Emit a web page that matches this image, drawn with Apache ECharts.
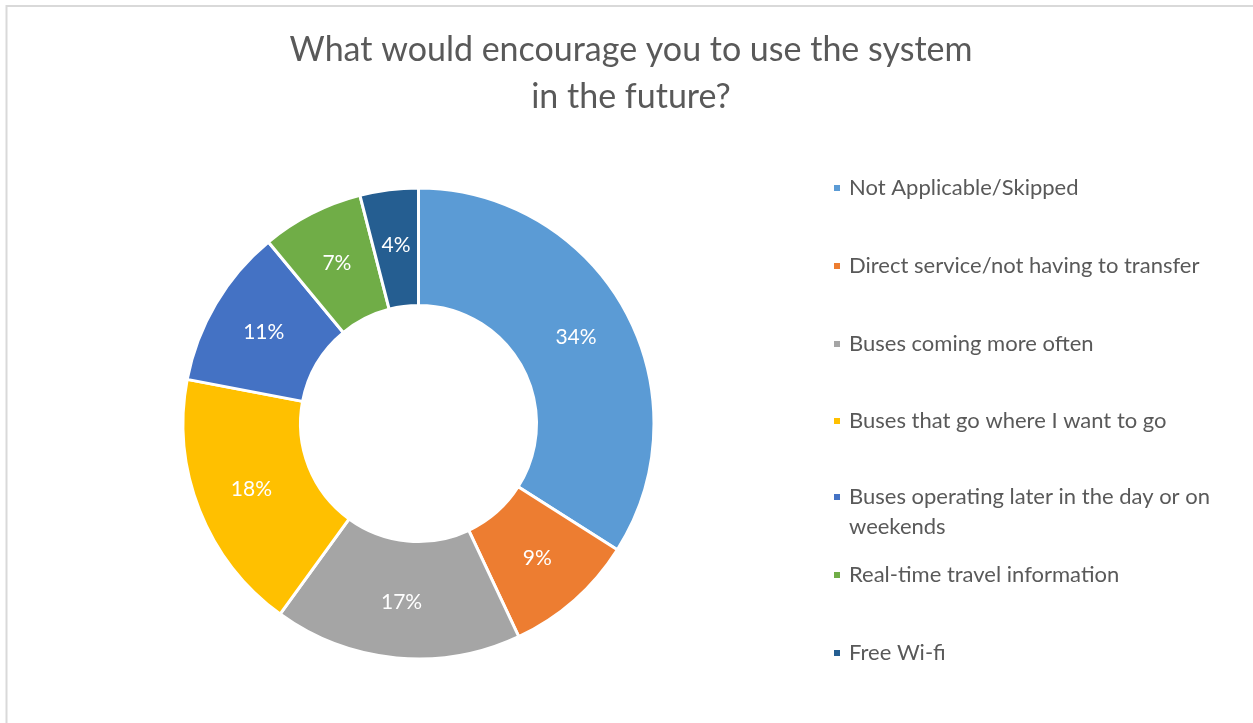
<!DOCTYPE html>
<html>
<head>
<meta charset="utf-8">
<script src="https://cdn.jsdelivr.net/npm/echarts@6/dist/echarts.min.js"></script>
<style>
  html, body { margin: 0; padding: 0; background: #fff; }
  #chart { width: 1253px; height: 723px; }
</style>
</head>
<body>
<div id="chart"></div>
<script>
// Survey answers and their share of responses (percent)
const categories = [
  'Not Applicable/Skipped',
  'Direct service/not having to transfer',
  'Buses coming more often',
  'Buses that go where I want to go',
  'Buses operating later in the day or on weekends',
  'Real-time travel information',
  'Free Wi-fi'
];
const shares = [34, 9, 17, 18, 11, 7, 4];
const colors = ['#5B9BD5', '#ED7D31', '#A5A5A5', '#FFC000', '#4472C4', '#70AD47', '#255E91'];

const FONT = 'Lato, "Open Sans", sans-serif';
const TEXT = '#595959';

// Vertical centres of the legend entries (first text line for wrapped ones)
const legendCenters = [188, 266, 344, 421, 497, 575, 653];

const legends = categories.map((name, i) => {
  const wrapped = name.length > 40;
  const lh = wrapped ? 30 : 24;
  // a wrapped entry gets a blank leading line so its marker sits beside the first text line
  const boxH = wrapped ? 90 : lh;
  return {
    orient: 'vertical',
    left: 832,
    top: legendCenters[i] - boxH / 2,
    itemWidth: 14,
    itemHeight: 8,
    icon: 'path://M0,0L1,0L1,1L0,1Z',
    data: [name],
    selectedMode: false,
    padding: 0,
    formatter: wrapped ? (n) => '\n' + n : '{name}',
    textStyle: {
      fontFamily: FONT,
      fontSize: 22,
      color: TEXT,
      lineHeight: lh,
      width: 372,
      overflow: 'break'
    }
  };
});

const chart = echarts.init(document.getElementById('chart'), null, { renderer: 'canvas' });
chart.setOption({
  backgroundColor: '#ffffff',
  animation: false,
  color: colors,
  title: {
    text: 'What would encourage you to use the system\nin the future?',
    left: 631,
    top: 26.5,
    padding: 0,
    textAlign: 'center',
    textStyle: {
      fontFamily: FONT,
      fontSize: 34,
      fontWeight: 'normal',
      color: TEXT,
      lineHeight: 47
    }
  },
  graphic: [{
    type: 'rect',
    silent: true,
    shape: { x: 6.5, y: 6, width: 1262, height: 740 },
    style: { fill: 'none', stroke: '#d9d9d9', lineWidth: 2 }
  }],
  legend: legends,
  series: [{
    type: 'pie',
    center: [418.5, 423.5],
    radius: [118, 235.5],
    startAngle: 90,
    clockwise: true,
    avoidLabelOverlap: false,
    itemStyle: { borderColor: '#ffffff', borderWidth: 3 },
    label: {
      show: true,
      position: 'inside',
      formatter: '{c}%',
      color: '#ffffff',
      fontFamily: FONT,
      fontSize: 21
    },
    labelLine: { show: false },
    emphasis: { disabled: true },
    data: categories.map((name, i) => ({ name, value: shares[i] }))
  }]
});
</script>
</body>
</html>
